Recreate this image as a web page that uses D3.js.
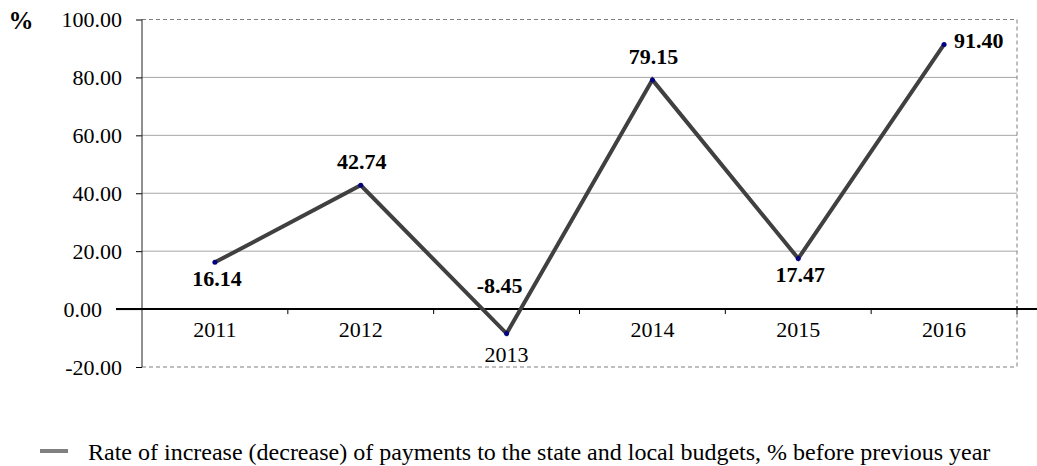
<!DOCTYPE html>
<html>
<head>
<meta charset="utf-8">
<script src="https://cdn.jsdelivr.net/npm/d3@7"></script>
<style>
  body { margin: 0; background: #fff; }
  svg { display: block; font-family: "Liberation Serif", "Times New Roman", serif; }
</style>
</head>
<body>
<svg id="chart"></svg>
<script>
// chart data
const years = ["2011", "2012", "2013", "2014", "2015", "2016"];
const rates = [16.14, 42.74, -8.45, 79.15, 17.47, 91.40];
const yTicks = [-20, 0, 20, 40, 60, 80, 100];
const seriesName = "Rate of increase (decrease) of payments to the state and local budgets, % before previous year";
// where each value label sits relative to its point
const labelPlace = ["below", "above", "aboveLeft", "above", "below", "right"];

const width = 1037;
const height = 466;
const svg = d3.select("#chart").attr("width", width).attr("height", height);

const plotLeft = 142, plotRight = 1017, plotTop = 19.5, plotBottom = 367;

// plain hyphen for negatives, like the original
const fmt = d3.formatLocale({ decimal: ".", thousands: ",", grouping: [3], currency: ["", ""], minus: "-" }).format(".2f");

const x = d3.scaleBand().domain(years).range([plotLeft, plotRight]).padding(0);
const y = d3.scaleLinear().domain([-20, 100]).range([plotBottom, plotTop]);

// gridlines
svg.append("g")
  .selectAll("line")
  .data(yTicks.filter((d) => d > 0 && d < 100))
  .enter()
  .append("line")
  .attr("x1", plotLeft).attr("x2", plotRight)
  .attr("y1", (d) => y(d)).attr("y2", (d) => y(d))
  .attr("stroke", "#a6a6a6")
  .attr("stroke-width", 1);

// dashed plot border (top, right, bottom)
const border = svg.append("g")
  .attr("stroke", "#7f7f7f")
  .attr("stroke-width", 1)
  .attr("stroke-dasharray", "4,3")
  .attr("fill", "none");
border.append("line").attr("x1", plotLeft).attr("x2", plotRight).attr("y1", y(100)).attr("y2", y(100));
border.append("line").attr("x1", plotRight).attr("x2", plotRight).attr("y1", y(100)).attr("y2", y(-20));
border.append("line").attr("x1", plotLeft).attr("x2", plotRight).attr("y1", y(-20)).attr("y2", y(-20));

// y axis
const yAxis = svg.append("g")
  .attr("transform", `translate(${plotLeft},0)`)
  .call(d3.axisLeft(y).tickValues(yTicks).tickSize(6).tickPadding(14).tickFormat(fmt));
yAxis.select(".domain").remove();
yAxis.selectAll(".tick line").attr("stroke", "#000").attr("stroke-width", 1);
yAxis.selectAll(".tick text")
  .attr("fill", "#000")
  .attr("font-size", "22px")
  .attr("font-family", "Liberation Serif, Times New Roman, serif");
// zero tick is longer (horizontal axis crosses there)
yAxis.selectAll(".tick").filter((d) => d === 0).select("line").attr("x2", -26);
yAxis.selectAll(".tick").filter((d) => d === 0).select("text").attr("x", -40);

svg.append("line")
  .attr("x1", plotLeft).attr("x2", plotLeft)
  .attr("y1", y(100)).attr("y2", y(-20))
  .attr("stroke", "#222")
  .attr("stroke-width", 1);

// horizontal axis at zero
svg.append("line")
  .attr("x1", plotLeft - 26).attr("x2", width)
  .attr("y1", y(0)).attr("y2", y(0))
  .attr("stroke", "#000")
  .attr("stroke-width", 2);

svg.append("g")
  .selectAll("line")
  .data(d3.range(1, years.length + 1))
  .enter()
  .append("line")
  .attr("x1", (i) => plotLeft + i * x.step()).attr("x2", (i) => plotLeft + i * x.step())
  .attr("y1", (i) => (i === years.length ? y(0) - 3 : y(0)))
  .attr("y2", y(0) + 5)
  .attr("stroke", "#000")
  .attr("stroke-width", 1);

// category labels (pushed down under negative points)
svg.append("g")
  .selectAll("text")
  .data(years)
  .enter()
  .append("text")
  .attr("x", (d) => x(d) + x.bandwidth() / 2)
  .attr("y", (d, i) => Math.max(y(0) + 28, y(rates[i]) + 28))
  .attr("text-anchor", "middle")
  .attr("font-size", "22px")
  .text((d) => d);

// "%" unit
svg.append("text")
  .attr("x", 21).attr("y", 29)
  .attr("text-anchor", "middle")
  .attr("font-size", "25px")
  .attr("font-weight", "bold")
  .text("%");

// series line
const pts = years.map((d, i) => ({ year: d, value: rates[i], place: labelPlace[i] }));
const line = d3.line()
  .x((d) => x(d.year) + x.bandwidth() / 2)
  .y((d) => y(d.value));

svg.append("path")
  .datum(pts)
  .attr("d", line)
  .attr("fill", "none")
  .attr("stroke", "#404040")
  .attr("stroke-width", 4)
  .attr("stroke-linejoin", "miter");

svg.append("g")
  .selectAll("circle")
  .data(pts)
  .enter()
  .append("circle")
  .attr("cx", (d) => x(d.year) + x.bandwidth() / 2)
  .attr("cy", (d) => y(d.value))
  .attr("r", 2.5)
  .attr("fill", "#000080");

// value labels
const offsets = {
  below: { dx: 2, dy: 24, anchor: "middle" },
  above: { dx: 1, dy: -16, anchor: "middle" },
  aboveLeft: { dx: -7, dy: -41, anchor: "middle" },
  right: { dx: 10, dy: 4, anchor: "start" },
};
svg.append("g")
  .selectAll("text")
  .data(pts)
  .enter()
  .append("text")
  .attr("x", (d) => x(d.year) + x.bandwidth() / 2 + offsets[d.place].dx)
  .attr("y", (d) => y(d.value) + offsets[d.place].dy)
  .attr("text-anchor", (d) => offsets[d.place].anchor)
  .attr("font-size", "22px")
  .attr("font-weight", "bold")
  .text((d) => fmt(d.value));

// legend
const legend = svg.append("g").attr("transform", "translate(40,451)");
legend.append("line")
  .attr("x1", 0).attr("x2", 28)
  .attr("y1", 0).attr("y2", 0)
  .attr("stroke", "#808080")
  .attr("stroke-width", 4);
legend.append("text")
  .attr("x", 48).attr("y", 9)
  .attr("font-size", "24px")
  .text(seriesName);
</script>
</body>
</html>
